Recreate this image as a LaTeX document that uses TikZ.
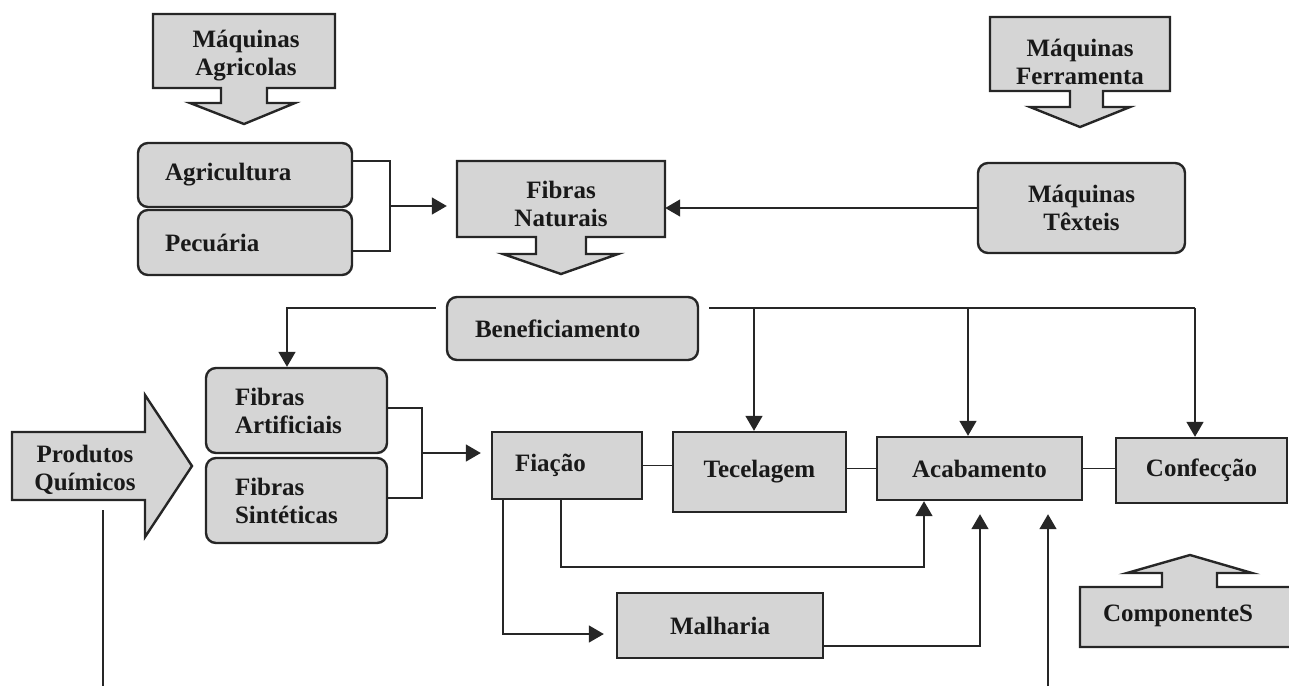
\documentclass[tikz,border=0pt]{standalone}
\usepackage{fontspec}
\setmainfont{Liberation Serif}
\usetikzlibrary{arrows.meta,calc}
\tikzset{
  lbl/.style={font=\bfseries\fontsize{25}{28}\selectfont, text=black!90, align=center, inner sep=0pt},
  boxsq/.style={lbl, draw=black!85, line width=2.4pt, fill=gray!33, rectangle},
  boxrd/.style={boxsq, rounded corners=10pt},
  callout/.style={draw=black!85, line width=2.4pt, fill=gray!33, line join=miter},
  conn/.style={draw=black!85, line width=1.6pt},
  arr/.style={conn, -{Triangle[length=15pt,width=17pt]}},
}
\begin{document}
\begin{tikzpicture}[x=1pt,y=-1pt]
\useasboundingbox (0,0) rectangle (1289,686);

% ---- callout shapes ----
\draw[callout] (153,14) -- (335,14) -- (335,88) -- (267,88) -- (267,103) -- (295,103) -- (244,124) -- (190,103) -- (221,103) -- (221,88) -- (153,88) -- cycle;
\node[lbl] (maqag) at (246,56) {Máquinas\\Agricolas};

\draw[callout] (990,17) -- (1170,17) -- (1170,91) -- (1103,91) -- (1103,107) -- (1130,107) -- (1080,127) -- (1030,107) -- (1070,107) -- (1070,91) -- (990,91) -- cycle;
\node[lbl] (maqfe) at (1080,62) {Máquinas\\Ferramenta};

\draw[callout] (457,161) -- (665,161) -- (665,237) -- (586,237) -- (586,254) -- (618,254) -- (561,274) -- (503,254) -- (536,254) -- (536,237) -- (457,237) -- cycle;
\node[lbl, minimum width=208pt, minimum height=76pt] (fn) at (561,204) {Fibras\\Naturais};

\draw[callout] (12,432) -- (145,432) -- (145,395) -- (192,466) -- (145,537) -- (145,500) -- (12,500) -- cycle;
\node[lbl] (pq) at (85,470) {Produtos\\Químicos};

\fill[gray!33] (1289,587) -- (1217,587) -- (1217,573) -- (1252,573) -- (1190,555) -- (1127,573) -- (1162,573) -- (1162,587) -- (1080,587) -- (1080,647) -- (1289,647) -- cycle;
\draw[callout, fill=none] (1289,587) -- (1217,587) -- (1217,573) -- (1252,573) -- (1190,555) -- (1127,573) -- (1162,573) -- (1162,587) -- (1080,587) -- (1080,647) -- (1289,647);
\node[lbl] (comp) at (1178,616) {ComponenteS};

% ---- boxes ----
\node[boxrd, minimum width=214pt, minimum height=64pt, text width=160pt, inner xsep=27pt, align=left] (agr) at (245,175) {Agricultura};
\node[boxrd, minimum width=214pt, minimum height=65pt, text width=160pt, inner xsep=27pt, align=left] (pec) at (245,242.5) {Pecuária};
\node[boxrd, minimum width=207pt, minimum height=90pt] (maqtex) at (1081.5,208) {Máquinas\\Têxteis};
\node[boxrd, minimum width=251pt, minimum height=63pt, text width=195pt, inner xsep=28pt, align=left] (ben) at (572.5,328.5) {Beneficiamento};
\node[boxrd, minimum width=181pt, minimum height=85pt, text width=123pt, inner xsep=29pt, align=left] (fart) at (296.5,410.5) {Fibras\\Artificiais};
\node[boxrd, minimum width=181pt, minimum height=85pt, text width=123pt, inner xsep=29pt, align=left] (fsin) at (296.5,500.5) {Fibras\\Sintéticas};
\node[boxsq, minimum width=150pt, minimum height=67pt, text width=104pt, inner xsep=23pt, align=left] (fia) at (567,465.5) {Fiação};
\node[boxsq, minimum width=173pt, minimum height=80pt] (tec) at (759.5,472) {Tecelagem};
\node[boxsq, minimum width=205pt, minimum height=63pt] (acab) at (979.5,468.5) {Acabamento};
\node[boxsq, minimum width=171pt, minimum height=65pt] (conf) at (1201.5,470.5) {Confecção};
\node[boxsq, minimum width=206pt, minimum height=65pt] (mal) at (720,625.5) {Malharia};

% ---- junction coordinates ----
\coordinate (j1) at (390,206);
\coordinate (j2) at (422,453);
\coordinate (bot1) at (103,686);
\coordinate (bot2) at (1048,686);

% ---- connectors ----
\draw[conn] ([yshift=14pt]agr.east) -- (390,161) -- (390,251) -- ([yshift=-8.5pt]pec.east);
\draw[arr, shorten >=10pt] (j1) -- (j1 -| fn.west);
\draw[arr] (maqtex.west) -- (maqtex.west -| fn.east);

\draw[arr, shorten <=10pt] ([yshift=20.5pt]ben.west) -- (287,308) -- (287,0 |- fart.north);
\draw[conn, shorten <=10pt] ([yshift=20.5pt]ben.east) -- (1195,308);
\draw[arr] (1195,308) -- (1195,0 |- conf.north);
\draw[arr] (754,308) -- (754,0 |- tec.north);
\draw[arr] (968,308) -- (968,0 |- acab.north);

\draw[conn] ([yshift=2.5pt]fart.east) -- (422,408) -- (422,498) -- ([yshift=2.5pt]fsin.east);
\draw[arr, shorten >=10pt] (j2) -- (j2 -| fia.west);

\draw[conn] (fia.east) -- (fia.east -| tec.west);
\draw[conn] (acab.west) -- (acab.west -| tec.east);
\draw[conn] (acab.east) -- (acab.east -| conf.west);

\draw[arr] (561,0 |- fia.south) -- (561,567) -- (924,567) -- (924,0 |- acab.south);
\draw[arr, shorten >=12pt] (503,0 |- fia.south) -- (503,634) -- (mal.west |- 0,634);
\draw[arr, shorten >=13pt] (mal.east |- 0,646) -- (980,646) -- (980,0 |- acab.south);
\draw[arr, shorten >=13pt] (bot2) -- (bot2 |- acab.south);
\draw[conn] (103,510) -- (bot1);
\end{tikzpicture}
\end{document}
